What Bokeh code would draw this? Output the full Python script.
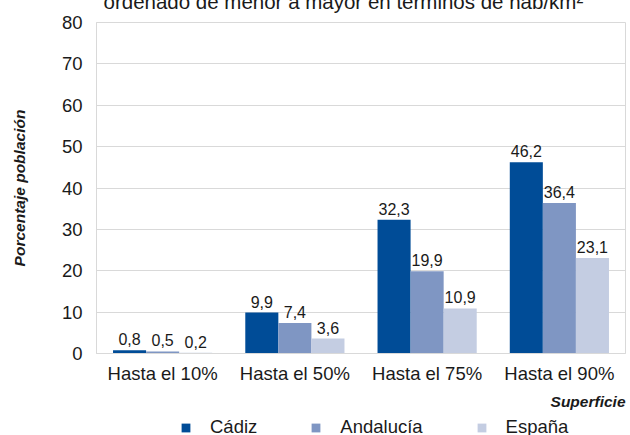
from bokeh.plotting import figure
from bokeh.layouts import column
from bokeh.models import ColumnDataSource, FactorRange, Legend, LegendItem, Title, SingleIntervalTicker
from bokeh.transform import dodge
from bokeh.embed import file_html
from bokeh.resources import INLINE

categories = ["Hasta el 10%", "Hasta el 50%", "Hasta el 75%", "Hasta el 90%"]
series_names = ["Cádiz", "Andalucía", "España"]
cadiz = [0.8, 9.9, 32.3, 46.2]
andalucia = [0.5, 7.4, 19.9, 36.4]
espana = [0.2, 3.6, 10.9, 23.1]
colors = ["#004C97", "#7F96C3", "#C4CDE2"]

FONT = "Liberation Sans"
TXT = "#1a1a1a"

def fmt(v):
    return f"{v:.1f}".replace(".", ",")

data = dict(cat=categories, cadiz=cadiz, andalucia=andalucia, espana=espana,
            l_cadiz=[fmt(v) for v in cadiz], l_andalucia=[fmt(v) for v in andalucia],
            l_espana=[fmt(v) for v in espana])
src = ColumnDataSource(data)

p = figure(width=630, height=436, x_range=FactorRange(*categories, range_padding=0),
           y_range=(0, 80), output_backend="svg", toolbar_location=None,
           min_border_left=96, min_border_right=5, min_border_top=44, min_border_bottom=60)
p.frame_align = False
p.margin = (-23, 0, 0, 0)

p.title.text = "ordenado de menor a mayor en términos de hab/km²"
p.title.text_font = FONT
p.title.text_font_size = "20.5px"
p.title.text_font_style = "normal"
p.title.text_color = TXT
p.title.align = "left"
p.title.offset = 7
p.title.standoff = 20

keys = ["cadiz", "andalucia", "espana"]
offsets = [-0.25, 0.0, 0.25]
for k, off, c in zip(keys, offsets, colors):
    p.vbar(x=dodge("cat", off, range=p.x_range), top=k, width=0.25, source=src,
           fill_color=c, line_color=None)
    p.text(x=dodge("cat", off, range=p.x_range), y=k, text="l_" + k, source=src,
           text_align="center", text_baseline="alphabetic", y_offset=-11,
           text_font_size="16px", text_color=TXT, text_font={"value": FONT})

p.xgrid.grid_line_color = None
p.ygrid.grid_line_color = "#d9d9d9"
p.outline_line_color = "#d9d9d9"
p.background_fill_color = "white"
p.border_fill_color = "white"

p.yaxis.ticker = SingleIntervalTicker(interval=10)
for ax in [p.xaxis[0], p.yaxis[0]]:
    ax.axis_line_color = "#d9d9d9"
    ax.major_tick_line_color = None
    ax.minor_tick_line_color = None
    ax.major_label_text_font = FONT
    ax.major_label_text_font_size = "18.5px"
    ax.major_label_text_color = TXT
p.xaxis.major_label_standoff = 3
p.yaxis.major_label_standoff = 8
p.yaxis.axis_label = "Porcentaje población"
p.yaxis.axis_label_text_font = FONT
p.yaxis.axis_label_text_font_size = "15.5px"
p.yaxis.axis_label_text_font_style = "bold italic"
p.yaxis.axis_label_text_color = TXT
p.yaxis.axis_label_standoff = 31

sup = Title(text="Superficie", align="right", text_font=FONT, text_font_size="15.5px",
            text_font_style="bold italic", text_color=TXT, standoff=8)
p.add_layout(sup, "below")

# legend strip (bars fall below its visible y range; only the legend shows)
pl = figure(width=630, height=22, output_backend="svg", toolbar_location=None,
            x_axis_type=None, y_axis_type=None, min_border=0,
            x_range=FactorRange(*categories, range_padding=0), y_range=(100, 101))
pl.frame_align = False
pl.grid.visible = False
pl.outline_line_color = None
pl.border_fill_color = "white"
pl.background_fill_color = "white"
items = []
for n, k, off, c in zip(series_names, keys, offsets, colors):
    r = pl.vbar(x=dodge("cat", off, range=pl.x_range), top=k, width=0.25, source=src,
                fill_color=c, line_color=None)
    items.append(LegendItem(label=n, renderers=[r]))
legend = Legend(items=items, orientation="horizontal", location=(180, -3),
                glyph_width=11, glyph_height=11, label_standoff=19, spacing=53,
                padding=0, margin=0, label_text_font=FONT, label_text_font_size="18.5px",
                label_text_color=TXT, border_line_color=None, background_fill_alpha=0)
pl.add_layout(legend, "center")

layout = column(p, pl, spacing=0)
open("out.html", "w").write(file_html(layout, INLINE))
